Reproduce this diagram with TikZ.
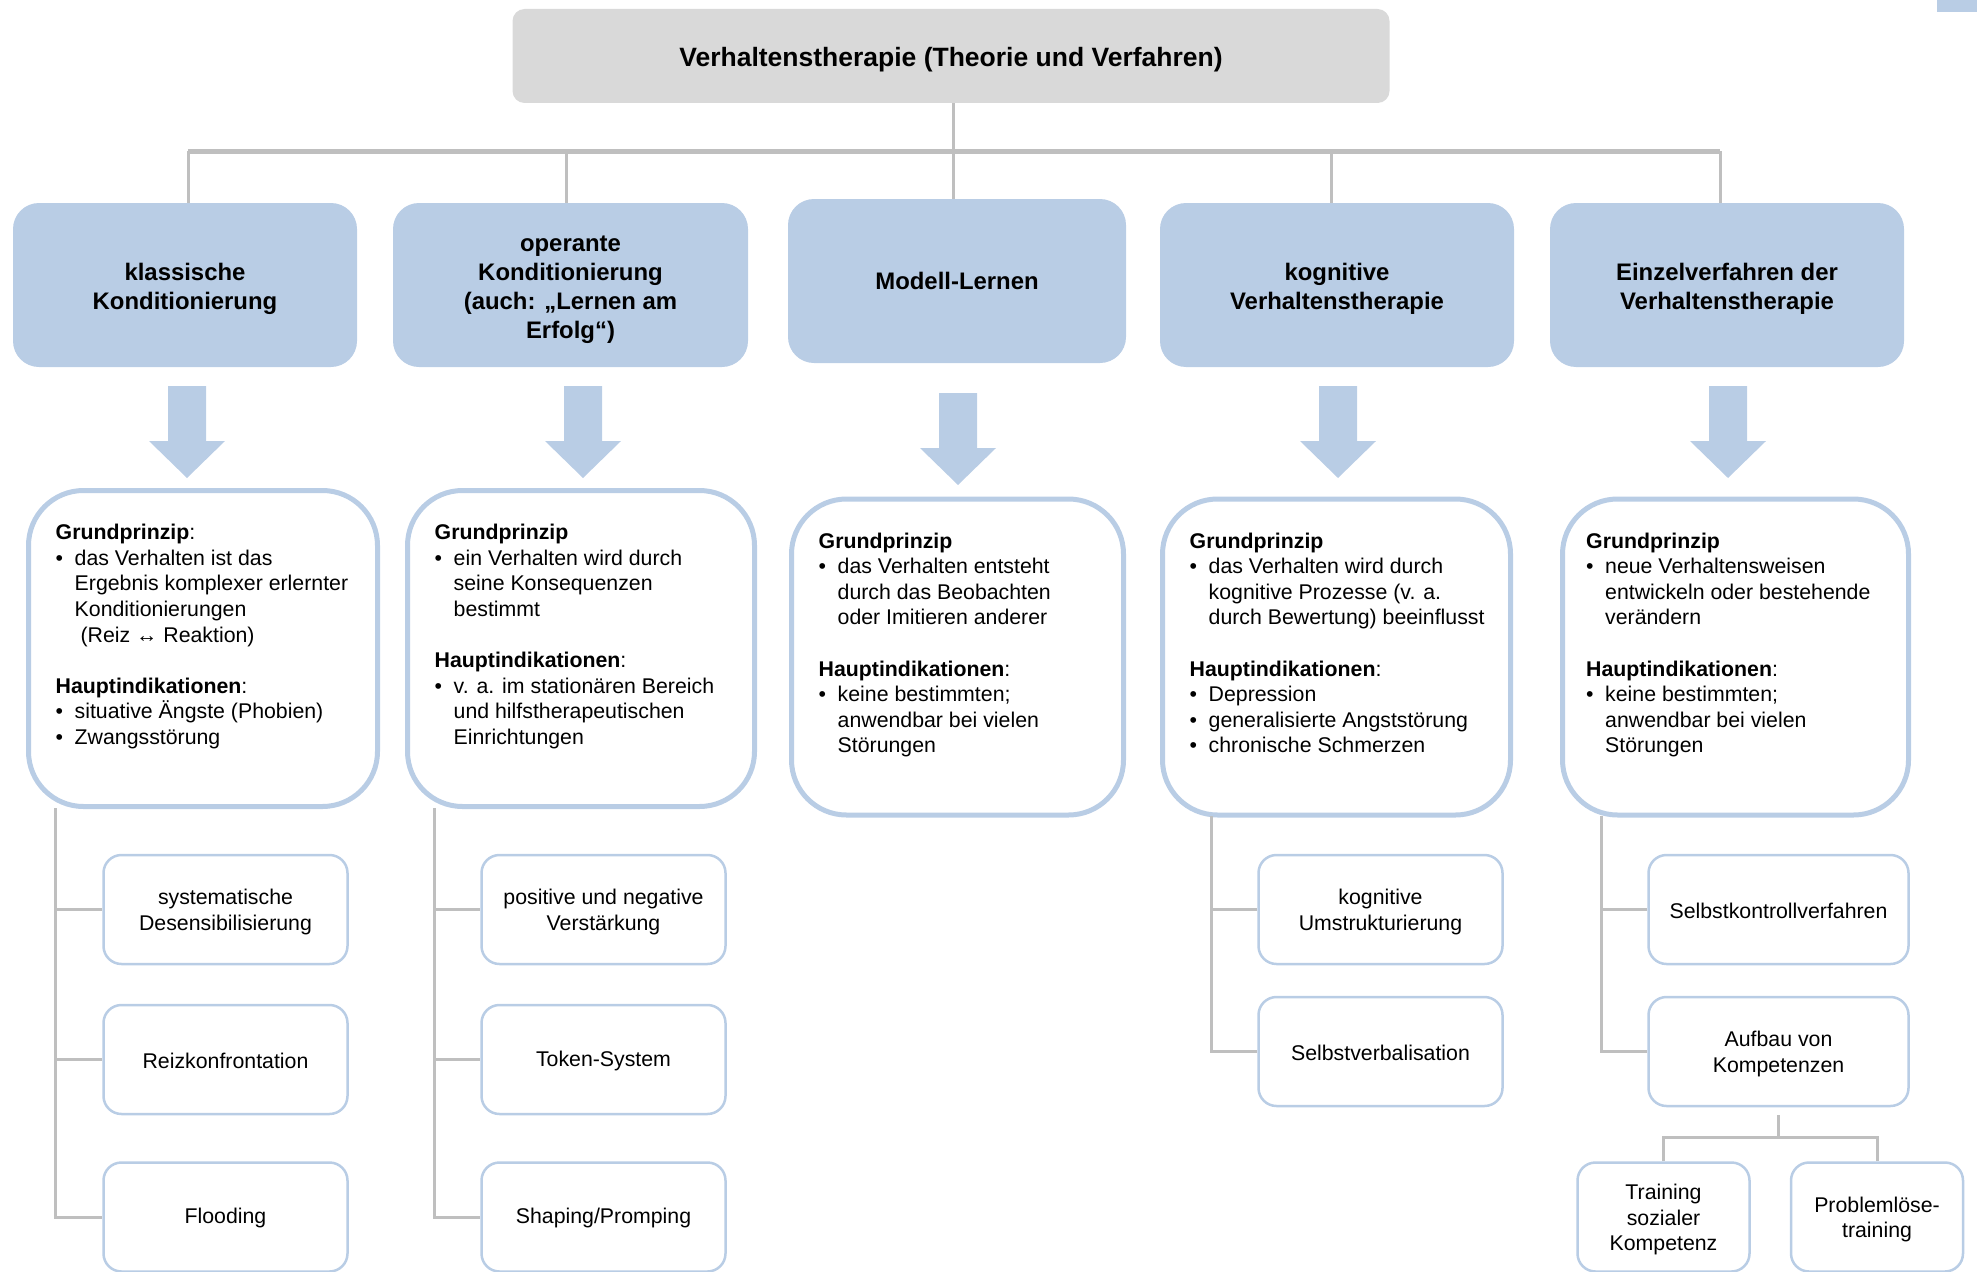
\documentclass[tikz,border=0pt]{standalone}
\usepackage{fontspec}
\setmainfont{Liberation Sans}
\usepackage{xcolor}
\usepackage{tikz}
\usetikzlibrary{positioning}

\definecolor{boxblue}{RGB}{185,205,229}
\definecolor{linegray}{RGB}{191,191,191}
\definecolor{titlegray}{RGB}{217,217,217}

\newcommand{\txtsize}{\fontsize{21.3pt}{25.6pt}\selectfont}
\newcommand{\catsize}{\fontsize{23.9pt}{29pt}\selectfont\bfseries}
\newcommand{\titlesize}{\fontsize{26.5pt}{32pt}\selectfont\bfseries}
\newcommand{\itm}{\makebox[19pt][l]{•}}
\newcommand{\ind}{\hspace*{19pt}}
\newcommand{\catup}{\rule{0pt}{25pt}}
\newcommand{\leafup}{\rule{0pt}{20.5pt}}

\begin{document}
\begin{tikzpicture}[x=1pt, y=-1pt, on grid,
    top/.style={rectangle, rounded corners=12pt, fill=titlegray, minimum width=877pt, minimum height=94pt, font=\titlesize, execute at begin node={\rule{0pt}{26pt}}},
    cat/.style={rectangle, rounded corners=26pt, fill=boxblue, minimum height=164pt, align=center, font=\catsize},
    info/.style={rectangle, rounded corners=55pt, draw=boxblue, line width=5pt, fill=white, minimum height=316pt},
    infotext/.style={anchor=north west, align=left, inner sep=0pt, font=\txtsize},
    leaf/.style={rectangle, rounded corners=18pt, draw=boxblue, line width=2.5pt, fill=white, minimum width=244pt, minimum height=109pt, align=center, font=\txtsize, execute at begin node={\rule{0pt}{17.5pt}}},
    link/.style={draw=linegray, line width=3pt},
    bus/.style={draw=linegray, line width=5pt},
    blockarrow/.style={fill=boxblue}]

    \useasboundingbox (0,0) rectangle (1977,1271);
    \clip (0,0) rectangle (1977,1271);

    \fill[boxblue] (1937,0) rectangle (1977,12);

    \node[top] (vt) at (951,56) {Verhaltenstherapie (Theorie und Verfahren)};

    \node[cat, minimum width=344pt] (k1) at (185,285) {\catup klassische\\Konditionierung};
    \node[cat, minimum width=355pt] (k2) at (570.5,285) {\catup operante\\Konditionierung\\(auch: „Lernen am\\Erfolg“)};
    \node[cat, minimum width=338pt] (k3) at (957,281) {Modell-Lernen};
    \node[cat, minimum width=354pt] (k4) at (1337,285) {\catup kognitive\\Verhaltenstherapie};
    \node[cat, minimum width=354pt] (k5) at (1727,285) {\catup Einzelverfahren der\\Verhaltenstherapie};

    \coordinate (bus) at (953,151);
    \foreach \k/\dx in {k1/3, k2/-4.5, k3/-4, k4/-5.5, k5/-7}
        \coordinate (d\k) at ([xshift=\dx pt]\k.north);
    \draw[link] (bus |- vt.south) -- (bus);
    \draw[bus] (bus -| dk1) -- (bus -| dk5);
    \foreach \k in {k1,k2,k3,k4,k5}
        \draw[link] (bus -| d\k) -- (d\k);

    \foreach \x/\y in {187/386, 583/386, 958/393, 1338/386, 1728/386}
        \fill[blockarrow] (\x-19,\y) -- (\x+19,\y) -- (\x+19,\y+55) -- (\x+38,\y+55)
            -- (\x,\y+92) -- (\x-38,\y+55) -- (\x-19,\y+55) -- cycle;

    \node[info, minimum width=349pt] (i1) at (203,648.5) {};
    \node[info, minimum width=347pt] (i2) at (581,648.5) {};
    \node[info, minimum width=332pt] (i3) at (957.5,657) {};
    \node[info, minimum width=348pt] (i4) at (1336.5,657) {};
    \node[info, minimum width=346pt] (i5) at (1735.5,657) {};

    \node[infotext] (t1) at ([xshift=29.5pt,yshift=-36pt]i1.north west) {%
        \textbf{Grundprinzip}:\\
        \itm das Verhalten ist das\\
        \ind Ergebnis komplexer erlernter\\
        \ind Konditionierungen\\
        \ind\ (Reiz ↔ Reaktion)\\[25.6pt]
        \textbf{Hauptindikationen}:\\
        \itm situative Ängste (Phobien)\\
        \itm Zwangsstörung};
    \node[infotext] (t2) at ([xshift=29.5pt,yshift=-36pt]i2.north west) {%
        \textbf{Grundprinzip}\\
        \itm ein Verhalten wird durch\\
        \ind seine Konsequenzen\\
        \ind bestimmt\\[25.6pt]
        \textbf{Hauptindikationen}:\\
        \itm v. a. im stationären Bereich\\
        \ind und hilfstherapeutischen\\
        \ind Einrichtungen};
    \node[infotext] (t3) at ([xshift=29.5pt,yshift=-36pt]i3.north west) {%
        \textbf{Grundprinzip}\\
        \itm das Verhalten entsteht\\
        \ind durch das Beobachten\\
        \ind oder Imitieren anderer\\[25.6pt]
        \textbf{Hauptindikationen}:\\
        \itm keine bestimmten;\\
        \ind anwendbar bei vielen\\
        \ind Störungen};
    \node[infotext] (t4) at ([xshift=29.5pt,yshift=-36pt]i4.north west) {%
        \textbf{Grundprinzip}\\
        \itm das Verhalten wird durch\\
        \ind kognitive Prozesse (v. a.\\
        \ind durch Bewertung) beeinflusst\\[25.6pt]
        \textbf{Hauptindikationen}:\\
        \itm Depression\\
        \itm generalisierte Angststörung\\
        \itm chronische Schmerzen};
    \node[infotext] (t5) at ([xshift=26pt,yshift=-36pt]i5.north west) {%
        \textbf{Grundprinzip}\\
        \itm neue Verhaltensweisen\\
        \ind entwickeln oder bestehende\\
        \ind verändern\\[25.6pt]
        \textbf{Hauptindikationen}:\\
        \itm keine bestimmten;\\
        \ind anwendbar bei vielen\\
        \ind Störungen};

    \node[leaf] (a1) at (225.5,909.5) {\leafup systematische\\Desensibilisierung};
    \node[leaf] (a2) [below=150pt of a1] {Reizkonfrontation};
    \node[leaf] (a3) [below=157.5pt of a2] {Flooding};

    \node[leaf] (b1) at (603.5,909.5) {\leafup positive und negative\\Verstärkung};
    \node[leaf] (b2) [below=150pt of b1] {Token-System};
    \node[leaf] (b3) [below=157.5pt of b2] {Shaping/Promping};

    \node[leaf] (c1) at (1380.5,909.5) {\leafup kognitive\\Umstrukturierung};
    \node[leaf] (c2) [below=142pt of c1] {Selbstverbalisation};

    \node[leaf, minimum width=260pt] (d1) at (1778.5,909.5) {Selbstkontrollverfahren};
    \node[leaf, minimum width=260pt] (d2) [below=142pt of d1] {\leafup Aufbau von\\Kompetenzen};

    \node[leaf, minimum width=172pt] (e1) at (1663.5,1217) {\leafup Training\\sozialer\\Kompetenz};
    \node[leaf, minimum width=172pt] (e2) [right=213.5pt of e1] {\leafup Problemlöse-\\training};

    \coordinate (v1) at (55,808);
    \coordinate (v2) at (434,808);
    \coordinate (v4) at (1211,816);
    \coordinate (v5) at (1601,816);

    \draw[link] (v1) |- (a3.west);
    \draw[link] (v1 |- a1.west) -- (a1.west);
    \draw[link] (v1 |- a2.west) -- (a2.west);

    \draw[link] (v2) |- (b3.west);
    \draw[link] (v2 |- b1.west) -- (b1.west);
    \draw[link] (v2 |- b2.west) -- (b2.west);

    \draw[link] (v4) |- (c2.west);
    \draw[link] (v4 |- c1.west) -- (c1.west);

    \draw[link] (v5) |- (d2.west);
    \draw[link] (v5 |- d1.west) -- (d1.west);

    \coordinate (fork) at ([yshift=24pt]e1.north -| d2.south);
    \draw[link] ([yshift=-8pt]d2.south) -- (fork);
    \draw[link] (e1.north) |- (fork) -| (e2.north);

\end{tikzpicture}
\end{document}
